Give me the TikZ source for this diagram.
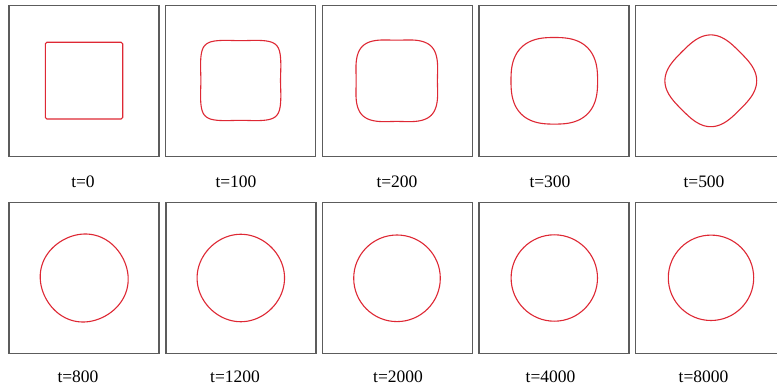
\documentclass[tikz,border=0pt]{standalone}
\usepackage{fontspec}
\setmainfont{Liberation Serif}
\definecolor{framegray}{RGB}{92,92,92}
\definecolor{curvered}{RGB}{222,40,52}
\tikzset{
  panel/.style={draw=framegray, line width=1.5pt, minimum width=150pt, minimum height=150.8pt, inner sep=0pt, fill=white},
  curve/.style={draw=curvered, line width=1.1pt},
  lab/.style={anchor=base, inner sep=0pt, font=\fontsize{17.5}{20}\selectfont},
}
% #1 cx, #2 cy, #3 A, #4 N, #5 eps8, #6 extra options
\newcommand\blob[6]{%
  \draw[curve, shift={(#1,#2)}, #6] plot[smooth cycle, domain=1:359, samples=180]
    ({\x}:{#3*(1-#5*cos(8*\x))/pow(pow(abs(cos(\x)),#4)+pow(abs(sin(\x)),#4),1/#4)});
}
\begin{document}
\begin{tikzpicture}[x=1pt,y=-1pt]
\useasboundingbox (0,0) rectangle (777,390);
% top row panels
\node[panel] (p1) at (84,81) {};
\node[panel] (p2) at (240.5,81) {};
\node[panel] (p3) at (397.3,81) {};
\node[panel] (p4) at (554,81) {};
\node[panel] (p5) at (710.7,81) {};
% bottom row panels
\node[panel] (q1) at (84,278) {};
\node[panel] (q2) at (240.8,278) {};
\node[panel] (q3) at (397.3,278) {};
\node[panel] (q4) at (554,278) {};
\node[panel] (q5) at (710.7,278) {};
% labels
\node[lab] (l1) at (83,187.3) {t=0};
\node[lab] (l2) at (236,187.3) {t=100};
\node[lab] (l3) at (397,187.3) {t=200};
\node[lab] (l4) at (550,187.3) {t=300};
\node[lab] (l5) at (704,187.3) {t=500};
\node[lab] (m1) at (78,382.3) {t=800};
\node[lab] (m2) at (235,382.3) {t=1200};
\node[lab] (m3) at (398,382.3) {t=2000};
\node[lab] (m4) at (550.5,382.3) {t=4000};
\node[lab] (m5) at (703.5,382.3) {t=8000};
% interfaces
\draw[curve, rounded corners=1.5pt] (45.3,42.3) rectangle (122.7,119);
\blob{240.7}{80.5}{40}{6}{0.004}{}
\blob{396.8}{80.8}{40.8}{4.2}{0.004}{}
\blob{554.3}{80.8}{43.3}{2.6}{0}{}
\blob{710.8}{80.8}{40.9}{3}{0}{rotate=45}
\draw[curve, shift={(84.2,278)}] plot[smooth cycle, domain=1:359, samples=180]
  ({\x}:{43.8*(1+0.008*cos(4*\x-60))});
\draw[curve, shift={(240.8,278)}] plot[smooth cycle, domain=1:359, samples=180]
  ({\x}:{43.5*(1+0.005*cos(4*\x))});
\draw[curve] (397,278.3) circle[radius=43.3];
\draw[curve] (554.3,278) circle[radius=43.2];
\draw[curve] (711,277.8) circle[radius=42.7];
\end{tikzpicture}
\end{document}
